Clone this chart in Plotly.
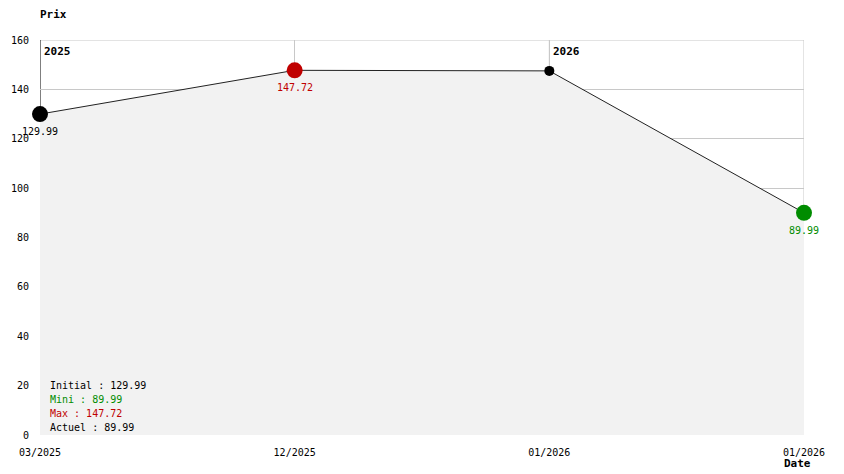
import plotly.graph_objects as go

date_labels = ["03/2025", "12/2025", "01/2026", "01/2026"]
prices = [129.99, 147.72, 147.49, 89.99]
marker_colors = ["#000000", "#c00000", "#000000", "#008c00"]
marker_sizes = [16, 16, 10, 16]
years = [(0, "2025", "#000000"), (2, "2026", "#c8c8c8")]
y_ticks = [0, 20, 40, 60, 80, 100, 120, 140, 160]

FONT = "DejaVu Sans Mono"
GRID = "#c8c8c8"
x_pos = list(range(len(prices)))

fig = go.Figure()
fig.add_trace(go.Scatter(
    x=x_pos, y=prices, mode="lines+markers",
    line=dict(color="#222222", width=1),
    fill="tozeroy", fillcolor="#f2f2f2",
    marker=dict(color=marker_colors, size=marker_sizes, opacity=1, line=dict(width=0)),
    opacity=1, cliponaxis=False, hoverinfo="skip", showlegend=False,
))

# frame: top edge and right edge above the curve
fig.add_shape(type="line", xref="x", yref="y", x0=0, x1=3, y0=160, y1=160,
              layer="below", line=dict(color=GRID, width=1))
fig.add_shape(type="line", xref="x", yref="y", x0=3, x1=3, y0=prices[-1], y1=160,
              layer="below", line=dict(color=GRID, width=1))

# year separators (drawn below the trace so markers stay on top)
for xv, label, col in years:
    fig.add_shape(type="line", xref="x", yref="y", x0=xv, x1=xv, layer="below",
                  y0=prices[xv], y1=160, line=dict(color=col, width=1))
    fig.add_annotation(x=xv, y=160, xref="x", yref="y", text="<b>%s</b>" % label,
                       showarrow=False, xanchor="left", yanchor="top",
                       xshift=2, yshift=-3, font=dict(family=FONT, size=11, color="#000"))

# value labels
i_min = prices.index(min(prices))
i_max = prices.index(max(prices))
for i in [0, i_max, i_min]:
    fig.add_annotation(x=i, y=prices[i], xref="x", yref="y", text="%.2f" % prices[i],
                       showarrow=False, yanchor="top", yshift=-10,
                       font=dict(family=FONT, size=10, color=marker_colors[i]))

stats = [("Initial : %.2f" % prices[0], "#000000"),
         ("Mini : %.2f" % min(prices), "#008c00"),
         ("Max : %.2f" % max(prices), "#c00000"),
         ("Actuel : %.2f" % prices[-1], "#000000")]
for k, (txt, col) in enumerate(stats):
    fig.add_annotation(x=8 / 764, y=(50 - 14 * k) / 395, xref="paper", yref="paper",
                       text=txt, showarrow=False, xanchor="left", yanchor="middle",
                       font=dict(family=FONT, size=10, color=col))

fig.add_annotation(x=0, y=1, xref="paper", yref="paper", text="<b>Prix</b>",
                   showarrow=False, xanchor="left", yanchor="middle", xshift=-2, yshift=26,
                   font=dict(family=FONT, size=11, color="#000"))
fig.add_annotation(x=(797 - 40) / 764, y=0, xref="paper", yref="paper", text="<b>Date</b>",
                   showarrow=False, xanchor="center", yanchor="middle", yshift=-28,
                   font=dict(family=FONT, size=11, color="#000"))

# page body has an 8px margin, so the figure is shrunk by that amount
fig.update_layout(
    width=836, height=466,
    margin=dict(l=32, r=40, t=32, b=39, autoexpand=False),
    paper_bgcolor="white", plot_bgcolor="white",
    font=dict(family=FONT, size=10, color="#000"),
    xaxis=dict(range=[0, 3], tickvals=x_pos, ticktext=date_labels, automargin=False,
               showgrid=True, gridcolor=GRID, gridwidth=1, zeroline=False,
               showline=False, ticks="outside", ticklen=8, tickcolor="white",
               fixedrange=True),
    yaxis=dict(range=[0, 160], tickvals=y_ticks, showgrid=True, gridcolor=GRID,
               gridwidth=1, zeroline=False, showline=False, ticks="outside", automargin=False,
               ticklen=8, tickcolor="white", fixedrange=True),
)

fig.write_html("out.html")
